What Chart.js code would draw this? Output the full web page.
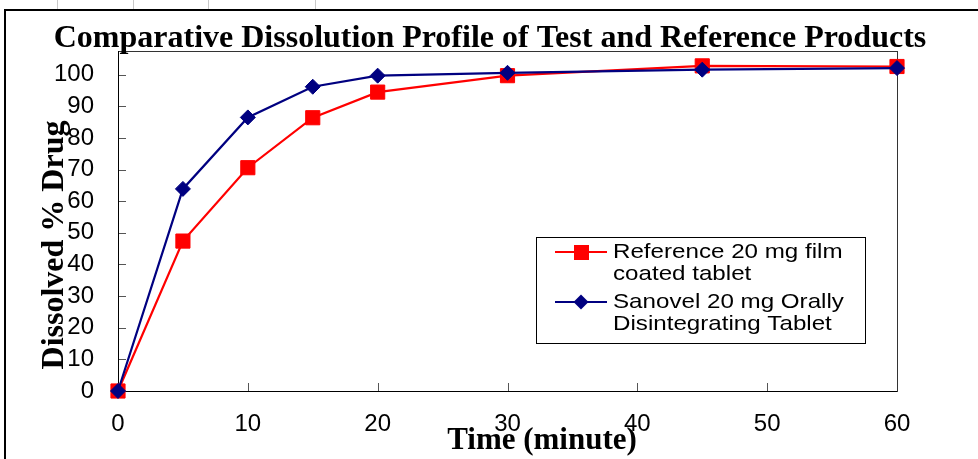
<!DOCTYPE html>
<html>
<head>
<meta charset="utf-8">
<script src="https://cdn.jsdelivr.net/npm/chart.js@4"></script>
<style>
  html, body { margin: 0; padding: 0; background: #fff; }
  #wrap { width: 978px; height: 459px; }
</style>
</head>
<body>
<div id="wrap"><canvas id="chart" width="978" height="459"></canvas></div>
<script>
// time points (minutes) and % dissolved
const times = [0, 5, 10, 15, 20, 30, 45, 60];
const referenceValues = [0, 47.4, 70.6, 86.4, 94.5, 99.7, 102.8, 102.6];
const sanovelValues = [0, 63.9, 86.5, 96.2, 99.7, 100.6, 101.6, 102.1];

const referenceLabel = ["Reference 20 mg film", "coated tablet"];
const sanovelLabel = ["Sanovel 20 mg Orally", "Disintegrating Tablet"];

const xTicks = [0, 10, 20, 30, 40, 50, 60];
const yTicks = [0, 10, 20, 30, 40, 50, 60, 70, 80, 90, 100];

const chartTitle = "Comparative Dissolution Profile of Test and Reference Products";
const xTitle = "Time (minute)";
const yTitle = "Dissolved % Drug";

const toPoints = vals => times.map((t, i) => ({ x: t, y: vals[i] }));

function diamond(ctx, x, y, r) {
  ctx.beginPath();
  ctx.moveTo(x, y - r);
  ctx.lineTo(x + r, y);
  ctx.lineTo(x, y + r);
  ctx.lineTo(x - r, y);
  ctx.closePath();
  ctx.fill();
}

const decor = {
  id: "decor",
  beforeDraw(chart) {
    const ctx = chart.ctx;
    ctx.save();
    ctx.fillStyle = "#fff";
    ctx.fillRect(0, 0, chart.width, chart.height);
    // bits of the spreadsheet behind the chart
    ctx.strokeStyle = "#c8c8c8";
    ctx.lineWidth = 1;
    [57, 133, 208, 315].forEach(x => {
      ctx.beginPath();
      ctx.moveTo(x + 0.5, 0);
      ctx.lineTo(x + 0.5, 9);
      ctx.stroke();
    });
    // outer chart frame
    ctx.strokeStyle = "#000";
    ctx.lineWidth = 2;
    ctx.beginPath();
    ctx.moveTo(5, chart.height);
    ctx.lineTo(5, 10);
    ctx.lineTo(chart.width, 10);
    ctx.stroke();
    ctx.restore();
  },
  beforeDatasetsDraw(chart) {
    const ctx = chart.ctx;
    const a = chart.chartArea;
    const xs = chart.scales.x, ys = chart.scales.y;
    ctx.save();
    ctx.strokeStyle = "#555";
    ctx.lineWidth = 1;
    ys.ticks.forEach(t => {
      const y = Math.round(ys.getPixelForValue(t.value)) + 0.5;
      ctx.beginPath();
      ctx.moveTo(a.left, y);
      ctx.lineTo(a.left + 8, y);
      ctx.stroke();
    });
    xs.ticks.forEach(t => {
      const x = Math.round(xs.getPixelForValue(t.value)) + 0.5;
      ctx.beginPath();
      ctx.moveTo(x, a.bottom);
      ctx.lineTo(x, a.bottom - 8);
      ctx.stroke();
    });
    ctx.strokeStyle = "#333";
    ctx.strokeRect(Math.round(a.left) + 0.5, Math.round(a.top) + 0.5,
      Math.round(a.right - a.left), Math.round(a.bottom - a.top));
    ctx.strokeStyle = "#000";
    ctx.beginPath();
    ctx.moveTo(Math.round(a.left) + 0.5, a.top);
    ctx.lineTo(Math.round(a.left) + 0.5, Math.round(a.bottom) + 0.5);
    ctx.lineTo(a.right, Math.round(a.bottom) + 0.5);
    ctx.stroke();
    ctx.restore();
  },
  afterDraw(chart) {
    const ctx = chart.ctx;
    ctx.save();
    ctx.fillStyle = "#000";
    // chart title
    ctx.font = "bold 32px 'Liberation Serif'";
    ctx.textAlign = "center";
    ctx.textBaseline = "alphabetic";
    ctx.fillText(chartTitle, 490, 47);
    // x title
    ctx.font = "bold 31px 'Liberation Serif'";
    ctx.fillText(xTitle, 542, 449);
    // y title
    ctx.save();
    ctx.translate(63, 245);
    ctx.rotate(-Math.PI / 2);
    ctx.font = "bold 32px 'Liberation Serif'";
    ctx.fillText(yTitle, 0, 0);
    ctx.restore();

    // legend
    const lx = 536, ly = 237, lw = 329, lh = 106;
    ctx.fillStyle = "#fff";
    ctx.fillRect(lx, ly, lw, lh);
    ctx.strokeStyle = "#000";
    ctx.lineWidth = 1;
    ctx.strokeRect(lx + 0.5, ly + 0.5, lw, lh);
    const rows = [
      { ds: chart.data.datasets[0], y: 252, text: referenceLabel },
      { ds: chart.data.datasets[1], y: 302, text: sanovelLabel }
    ];
    rows.forEach(r => {
      ctx.strokeStyle = r.ds.borderColor;
      ctx.lineWidth = 2;
      ctx.beginPath();
      ctx.moveTo(555, r.y);
      ctx.lineTo(607, r.y);
      ctx.stroke();
      ctx.fillStyle = r.ds.pointBackgroundColor;
      if (r.ds.pointStyle === "rect") {
        ctx.fillRect(574, r.y - 7, 15, 15);
      } else {
        diamond(ctx, 581, r.y, 7.5);
      }
      ctx.fillStyle = "#000";
      ctx.font = "21px 'Liberation Sans'";
      ctx.textAlign = "left";
      ctx.textBaseline = "middle";
      r.text.forEach((line, i) => {
        ctx.save();
        ctx.translate(613, r.y + i * 22);
        ctx.scale(1.15, 1);
        ctx.fillText(line, 0, 0);
        ctx.restore();
      });
    });
    ctx.restore();
  }
};

new Chart(document.getElementById("chart"), {
  type: "line",
  data: {
    datasets: [
      {
        label: referenceLabel.join(" "),
        data: toPoints(referenceValues),
        borderColor: "#ff0000",
        backgroundColor: "#ff0000",
        pointBackgroundColor: "#ff0000",
        pointBorderColor: "#ff0000",
        pointStyle: "rect",
        pointRadius: 10,
        pointBorderWidth: 1,
        borderWidth: 2.2,
        tension: 0,
        clip: false,
        order: 2
      },
      {
        label: sanovelLabel.join(" "),
        data: toPoints(sanovelValues),
        borderColor: "#000080",
        backgroundColor: "#000080",
        pointBackgroundColor: "#000080",
        pointBorderColor: "#000080",
        pointStyle: "rectRot",
        pointRadius: 7.5,
        pointBorderWidth: 1,
        borderWidth: 2.2,
        tension: 0,
        clip: false,
        order: 1
      }
    ]
  },
  options: {
    responsive: false,
    animation: false,
    devicePixelRatio: 1,
    layout: { padding: { top: 51, right: 81, bottom: 0, left: 0 } },
    plugins: {
      legend: { display: false },
      title: { display: false },
      tooltip: { enabled: false }
    },
    scales: {
      x: {
        type: "linear",
        min: 0,
        max: 60,
        afterBuildTicks: s => { s.ticks = xTicks.map(v => ({ value: v })); },
        afterFit: s => { s.height = 68; },
        grid: { display: false, drawTicks: false },
        border: { display: false },
        ticks: {
          padding: 19,
          color: "#000",
          font: { family: "'Liberation Sans'", size: 24 }
        }
      },
      y: {
        type: "linear",
        min: 0,
        max: 107.5,
        afterBuildTicks: s => { s.ticks = yTicks.map(v => ({ value: v })); },
        afterFit: s => { s.width = 118; },
        grid: { display: false, drawTicks: false },
        border: { display: false },
        ticks: {
          padding: 24,
          color: "#000",
          font: { family: "'Liberation Sans'", size: 24 }
        }
      }
    }
  },
  plugins: [decor]
});
</script>
</body>
</html>
